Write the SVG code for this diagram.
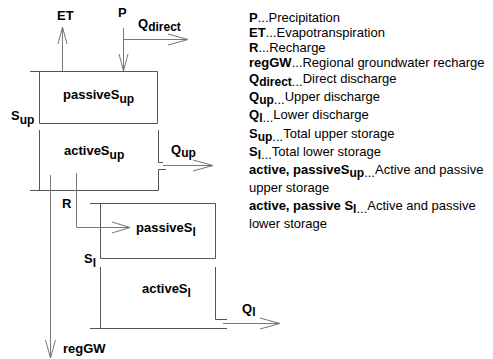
<svg xmlns="http://www.w3.org/2000/svg" width="493" height="359" viewBox="0 0 493 359">
<style>
.box{fill:none;stroke:#555;stroke-width:1}
.arr{fill:none;stroke:#777;stroke-width:1}
.lbl{font-family:"Liberation Sans",Arial,sans-serif;font-size:13px;font-weight:bold;fill:#000}
.leg{font-family:"Liberation Sans",Arial,sans-serif;font-size:13px;fill:#000}
.b{font-weight:bold}
.sub{font-size:12px;font-weight:bold}
</style>
<rect x="0" y="0" width="493" height="359" fill="#fff"/>
<g id="upper-passive">
<path class="box" d="M30,71.5H157.5V123.5H39.5V71.5"/>
<text class="lbl" x="63" y="99">passiveS<tspan class="sub" dy="4">up</tspan></text>
</g>
<g id="upper-active">
<path class="box" d="M39.5,130V190.5M30,190.5H158.5V169.5H166M158.5,130V162.5H163"/>
<text class="lbl" x="64" y="155">activeS<tspan class="sub" dy="4">up</tspan></text>
</g>
<g id="upper-storage-label">
<text class="lbl" x="11" y="120">S<tspan class="sub" dy="4">up</tspan></text>
</g>
<g id="lower-passive">
<path class="box" d="M90,203.5H215.5V258.5H100.5V203.5"/>
<text class="lbl" x="136" y="232">passiveS<tspan class="sub" dy="4">l</tspan></text>
</g>
<g id="lower-active">
<path class="box" d="M100.5,267V328.5M90,328.5H227M215.5,267V319.5H227"/>
<text class="lbl" x="142" y="293">activeS<tspan class="sub" dy="4">l</tspan></text>
</g>
<g id="lower-storage-label">
<text class="lbl" x="84" y="263">S<tspan class="sub" dy="4">l</tspan></text>
</g>
<g id="connectors">
<path class="arr" d="M62.5,71V27M58,44L62.5,27L67,44"/>
<path class="arr" d="M123.5,28V71M119,54L123.5,71L128,54"/>
<path class="arr" d="M123.5,39.5H188M168,34L188,39.5L168,45"/>
<path class="arr" d="M163,165.5H213M193,160L213,165.5L193,171"/>
<path class="arr" d="M50.5,175V358M45.5,340L50.5,358L55.5,340"/>
<path class="arr" d="M76.5,173V227.5H130M112,222L130,227.5L112,233"/>
<path class="arr" d="M223,323.5H280M260,318L280,323.5L260,329"/>
<text class="lbl" x="57" y="20">ET</text>
<text class="lbl" x="118" y="17">P</text>
<text class="lbl" x="138" y="28">Q<tspan class="sub" dy="3">direct</tspan></text>
<text class="lbl" x="171" y="154">Q<tspan class="sub" dy="3">up</tspan></text>
<text class="lbl" x="62" y="208">R</text>
<text class="lbl" x="242" y="313">Q<tspan class="sub" dy="3">l</tspan></text>
<text class="lbl" x="63" y="353">regGW</text>
</g>
<g id="legend" class="leg">
<text x="249" y="22"><tspan class="b">P</tspan>...Precipitation</text>
<text x="249" y="37"><tspan class="b">ET</tspan>...Evapotranspiration</text>
<text x="249" y="52"><tspan class="b">R</tspan>...Recharge</text>
<text x="249" y="67"><tspan class="b">regGW</tspan>...Regional groundwater recharge</text>
<text x="249" y="83"><tspan class="b">Q</tspan><tspan class="sub" dy="3">direct</tspan><tspan>...</tspan><tspan dy="-3">Direct discharge</tspan></text>
<text x="249" y="101"><tspan class="b">Q</tspan><tspan class="sub" dy="3">up</tspan><tspan>...</tspan><tspan dy="-3">Upper discharge</tspan></text>
<text x="249" y="119"><tspan class="b">Q</tspan><tspan class="sub" dy="3">l</tspan><tspan>...</tspan><tspan dy="-3">Lower discharge</tspan></text>
<text x="249" y="138"><tspan class="b">S</tspan><tspan class="sub" dy="3">up</tspan><tspan>...</tspan><tspan dy="-3">Total upper storage</tspan></text>
<text x="249" y="156"><tspan class="b">S</tspan><tspan class="sub" dy="3">l</tspan><tspan>...</tspan><tspan dy="-3">Total lower storage</tspan></text>
<text x="249" y="174"><tspan class="b">active, passiveS</tspan><tspan class="sub" dy="3">up</tspan><tspan>...</tspan><tspan dy="-3">Active and passive</tspan></text>
<text x="249" y="192">upper storage</text>
<text x="249" y="210"><tspan class="b">active, passive S</tspan><tspan class="sub" dy="3">l</tspan><tspan>...</tspan><tspan dy="-3">Active and passive</tspan></text>
<text x="249" y="228">lower storage</text>
</g>
</svg>
